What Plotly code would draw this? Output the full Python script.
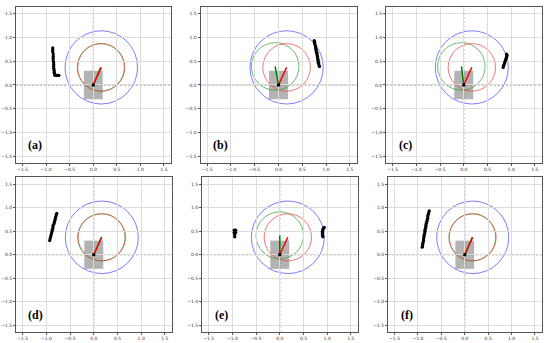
import plotly.graph_objects as go

# ---------------- data ----------------
PANEL_LABELS = ["(a)", "(b)", "(c)", "(d)", "(e)", "(f)"]
TICK_VALUES = [-1.5, -1.0, -0.5, 0.0, 0.5, 1.0, 1.5]

RED_END_X = [0.17, 0.17, 0.17, 0.17, 0.17, 0.17]
RED_END_Y = [0.37, 0.37, 0.37, 0.37, 0.37, 0.37]
GREEN_END_X = [0.16, -0.07, -0.05, 0.16, 0.0, 0.16]
GREEN_END_Y = [0.37, 0.39, 0.39, 0.37, 0.41, 0.37]
RED_RADIUS = 0.5
GREEN_RADIUS = 0.5
BLUE_RADIUS = 0.77
RECT_HALF_W = 0.2
RECT_HALF_H = 0.3

DOTS_A_X = [-0.86, -0.86, -0.86, -0.85, -0.85, -0.85, -0.85, -0.84, -0.84, -0.84, -0.84, -0.83, -0.83, -0.82, -0.82, -0.80, -0.77, -0.73]
DOTS_A_Y = [0.78, 0.74, 0.70, 0.65, 0.60, 0.56, 0.51, 0.47, 0.43, 0.39, 0.35, 0.31, 0.27, 0.24, 0.21, 0.20, 0.20, 0.20]
DOTS_B_X = [0.75, 0.76, 0.76, 0.77, 0.78, 0.78, 0.79, 0.79, 0.80, 0.81, 0.81, 0.82, 0.82, 0.83, 0.83, 0.84, 0.84, 0.85, 0.86]
DOTS_B_Y = [0.93, 0.90, 0.87, 0.84, 0.81, 0.78, 0.75, 0.72, 0.69, 0.66, 0.63, 0.60, 0.57, 0.54, 0.51, 0.48, 0.45, 0.42, 0.39]
DOTS_C_X = [0.90, 0.91, 0.91, 0.90, 0.89, 0.88, 0.87, 0.86, 0.85, 0.84, 0.83]
DOTS_C_Y = [0.65, 0.63, 0.61, 0.58, 0.55, 0.52, 0.49, 0.46, 0.43, 0.40, 0.37]
DOTS_D_X = [-0.78, -0.79, -0.80, -0.81, -0.82, -0.83, -0.84, -0.86, -0.86, -0.87, -0.88, -0.89, -0.90, -0.91, -0.92, -0.93]
DOTS_D_Y = [0.88, 0.85, 0.81, 0.77, 0.73, 0.69, 0.65, 0.62, 0.58, 0.54, 0.50, 0.46, 0.42, 0.38, 0.34, 0.30]
DOTS_E_X = [-0.96, -0.93, -0.96, -0.93, -0.95, -0.95, 0.94, 0.92, 0.91, 0.90, 0.90, 0.90, 0.90, 0.91]
DOTS_E_Y = [0.52, 0.52, 0.47, 0.47, 0.42, 0.38, 0.58, 0.56, 0.53, 0.50, 0.47, 0.44, 0.41, 0.38]
DOTS_F_X = [-0.76, -0.77, -0.78, -0.79, -0.79, -0.80, -0.81, -0.82, -0.83, -0.83, -0.84, -0.85, -0.85, -0.86, -0.87, -0.87, -0.88, -0.88, -0.89, -0.90, -0.90, -0.91]
DOTS_F_Y = [0.93, 0.89, 0.86, 0.82, 0.78, 0.75, 0.71, 0.67, 0.63, 0.60, 0.56, 0.52, 0.49, 0.45, 0.41, 0.38, 0.34, 0.30, 0.26, 0.23, 0.19, 0.16]

DOTS_X = [DOTS_A_X, DOTS_B_X, DOTS_C_X, DOTS_D_X, DOTS_E_X, DOTS_F_X]
DOTS_Y = [DOTS_A_Y, DOTS_B_Y, DOTS_C_Y, DOTS_D_Y, DOTS_E_Y, DOTS_F_Y]

# ---------------- layout geometry (pixels) ----------------
W, H = 550, 343
PANEL_BOXES = [  # left, right, top, bottom in px
    (16, 171, 6.5, 163),
    (200.5, 357, 6.5, 163),
    (386, 542, 6.5, 163),
    (16, 172, 177, 332),
    (202, 358, 177, 332),
    (388, 542, 177, 332),
]
AX_RANGE = [-1.64, 1.65]

fig = go.Figure()
shapes = []
annotations = []

for i in range(6):
    n = "" if i == 0 else str(i + 1)
    xr, yr = "x" + n, "y" + n
    l, r, t, b = PANEL_BOXES[i]
    axis_common = dict(
        range=AX_RANGE, tickvals=TICK_VALUES, tickformat=".1f",
        showgrid=True, gridcolor="#dcdcdc", gridwidth=1,
        zeroline=False, showline=True, linecolor="#555555", linewidth=1,
        mirror=True, ticks="outside", ticklen=2, tickcolor="#555555",
        tickfont=dict(size=4.5, color="#333333", family="DejaVu Sans"),
        fixedrange=True,
    )
    fig.layout["xaxis" + n] = dict(axis_common, domain=[l / W, r / W], anchor=yr)
    fig.layout["yaxis" + n] = dict(axis_common, domain=[1 - b / H, 1 - t / H], anchor=xr)

    # dashed axes
    shapes.append(dict(type="line", xref=xr, yref=yr, x0=0, x1=0, y0=AX_RANGE[0], y1=AX_RANGE[1],
                       line=dict(color="#808080", width=1, dash="2px,2px"), layer="below"))
    shapes.append(dict(type="line", xref=xr, yref=yr, x0=AX_RANGE[0], x1=AX_RANGE[1], y0=0, y1=0,
                       line=dict(color="#808080", width=1, dash="2px,2px"), layer="below"))
    # gray rectangle
    shapes.append(dict(type="rect", xref=xr, yref=yr, x0=-RECT_HALF_W, x1=RECT_HALF_W,
                       y0=-RECT_HALF_H, y1=RECT_HALF_H, fillcolor="rgba(128,128,128,0.6)",
                       line=dict(width=0), layer="below"))
    # circles
    rx, ry = RED_END_X[i], RED_END_Y[i]
    gx, gy = GREEN_END_X[i], GREEN_END_Y[i]
    shapes.append(dict(type="circle", xref=xr, yref=yr, x0=rx - BLUE_RADIUS, x1=rx + BLUE_RADIUS,
                       y0=ry - BLUE_RADIUS, y1=ry + BLUE_RADIUS,
                       line=dict(color="rgba(70,70,255,0.7)", width=1), layer="below"))
    shapes.append(dict(type="circle", xref=xr, yref=yr, x0=gx - GREEN_RADIUS, x1=gx + GREEN_RADIUS,
                       y0=gy - GREEN_RADIUS, y1=gy + GREEN_RADIUS,
                       line=dict(color="rgba(40,160,40,0.7)", width=1), layer="below"))
    shapes.append(dict(type="circle", xref=xr, yref=yr, x0=rx - RED_RADIUS, x1=rx + RED_RADIUS,
                       y0=ry - RED_RADIUS, y1=ry + RED_RADIUS,
                       line=dict(color="rgba(240,60,60,0.7)", width=1), layer="below"))

    # green and red direction lines
    fig.add_trace(go.Scatter(x=[0, gx], y=[0, gy], mode="lines", xaxis=xr, yaxis=yr,
                             line=dict(color="green", width=1.5), showlegend=False, hoverinfo="skip"))
    fig.add_trace(go.Scatter(x=[0, rx], y=[0, ry], mode="lines", xaxis=xr, yaxis=yr,
                             line=dict(color="red", width=1.5), showlegend=False, hoverinfo="skip"))
    fig.add_trace(go.Scatter(x=[0], y=[0], mode="markers", xaxis=xr, yaxis=yr,
                             marker=dict(color="black", size=3.5), showlegend=False, hoverinfo="skip"))
    # black dots
    fig.add_trace(go.Scatter(x=DOTS_X[i], y=DOTS_Y[i], mode="markers", xaxis=xr, yaxis=yr,
                             marker=dict(color="black", size=3.3), showlegend=False, hoverinfo="skip"))

    annotations.append(dict(text="<b>" + PANEL_LABELS[i] + "</b>", xref=xr, yref=yr,
                            x=-1.23, y=-1.27, showarrow=False,
                            font=dict(family="Liberation Serif", size=12, color="black")))

fig.update_layout(
    width=W, height=H, margin=dict(l=0, r=0, t=0, b=0),
    paper_bgcolor="white", plot_bgcolor="rgba(0,0,0,0)",
    shapes=shapes, annotations=annotations, showlegend=False,
)

fig.write_html("out.html", config={"displayModeBar": False},
               post_script="document.body.style.margin='0';")
